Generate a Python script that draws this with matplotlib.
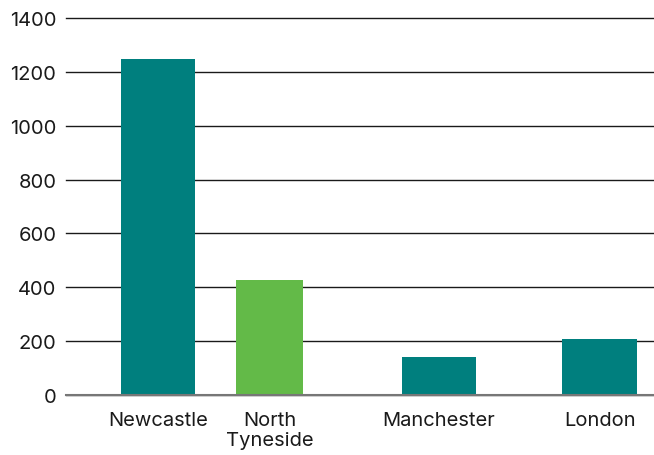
import matplotlib.pyplot as plt

places = ['Newcastle', 'North\nTyneside', 'Manchester', 'London']
counts = [1250, 425, 140, 208]

# layout only: bar centres / widths in axis units, and colours
xpos = [0, 1, 2.52, 3.96]
widths = [0.66, 0.60, 0.67, 0.67]
teal = '#007F7E'
green = '#63BA48'
colors = [teal, green, teal, teal]

plt.rcParams['font.family'] = ['Inter', 'DejaVu Sans']

fig = plt.figure(figsize=(6.54, 4.56), dpi=100)
ax = fig.add_axes([66 / 654, 60.3 / 456, 1 - 66 / 654, (395.7 - 19.3) / 456])

ax.bar(xpos, counts, width=widths, color=colors, zorder=3)

ax.set_ylim(0, 1400)
ax.set_yticks(range(0, 1401, 200))
ax.set_xlim(-0.825, 4.448)
ax.set_xticks(xpos)
ax.set_xticklabels(places, linespacing=1.1)
ax.yaxis.grid(True, color='#1a1a1a', linewidth=1.0, zorder=0)
for gl in ax.get_ygridlines():
    gl.set_clip_on(False)
ax.axhline(0, color='#777777', linewidth=1.5, zorder=4, clip_on=False)
ax.tick_params(axis='both', length=0, labelsize=14.5, colors='#1a1a1a')
ax.tick_params(axis='x', pad=12)
ax.tick_params(axis='y', pad=7)
for s in ax.spines.values():
    s.set_visible(False)

fig.savefig('out.png', dpi=100)
